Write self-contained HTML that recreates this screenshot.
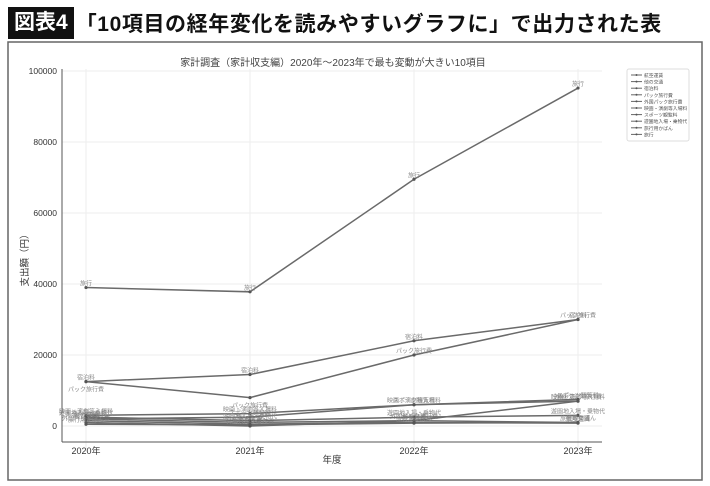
<!DOCTYPE html>
<html><head><meta charset="utf-8">
<style>
body{margin:0;width:710px;height:486px;background:#fff;font-family:"Liberation Sans","Noto Sans CJK JP",sans-serif;overflow:hidden}
.hdr{position:absolute;left:8px;top:7px;height:32px;display:flex;align-items:center}
.tag{background:#111;color:#fff;font-weight:bold;font-size:21px;padding:0 6px;height:32px;line-height:32px}
.ttl{font-weight:bold;font-size:21px;color:#111;margin-left:2px;letter-spacing:0.6px}
svg{position:absolute;left:0;top:0}
</style></head><body>
<div class="hdr"><span class="tag">図表4</span><span class="ttl">「10項目の経年変化を読みやすいグラフに」で出力された表</span></div>
<svg id="c" width="710" height="486"></svg>
<script>
const years=["2020年","2021年","2022年","2023年"];
const names=["航空運賃","他の交通","宿泊料","パック旅行費","外国パック旅行費","映画・演劇等入場料","スポーツ観覧料","遊園地入場・乗物代","旅行用かばん","旅行"];
const s0=[1500,500,1000,800];
const s1=[2000,1000,1500,1000];
const s2=[12500,14500,24000,30000];
const s3=[12500,8000,20000,30000];
const s4=[1000,0,1500,7000];
const s5=[3000,3500,6000,7000];
const s6=[2000,2500,6000,7500];
const s7=[2500,1500,2500,3000];
const s8=[500,300,800,1000];
const s9=[39000,37800,69500,95200];
const series=[s0,s1,s2,s3,s4,s5,s6,s7,s8,s9];
const yTicks=[0,20000,40000,60000,80000,100000];
const NS="http://www.w3.org/2000/svg";
const svg=document.getElementById('c');
const X0=86,DX=164,Y0=426,YS=71/20000;
const xs=i=>X0+i*DX, ys=v=>Y0-v*YS;
function mk(t,a,p){const e=document.createElementNS(NS,t);for(const k in a)e.setAttribute(k,a[k]);(p||svg).appendChild(e);return e;}
let frame=mk('rect',{x:8,y:42,width:694,height:438,fill:'none',stroke:'#666','stroke-width':1.5});


let t=mk('text',{x:333,y:66,'font-size':10,fill:'#444','text-anchor':'middle'});t.textContent="家計調査（家計収支編）2020年〜2023年で最も変動が大きい10項目";


yTicks.forEach(v=>{
 mk('line',{x1:62,x2:602,y1:ys(v),y2:ys(v),stroke:'#eee'});
 const l=mk('text',{x:57,y:ys(v)+3,'font-size':8.5,fill:'#333','text-anchor':'end'});l.textContent=v;
 
 
});
years.forEach((y,i)=>{
 mk('line',{x1:xs(i),x2:xs(i),y1:69,y2:452,stroke:'#eee'});
 const l=mk('text',{x:xs(i),y:454,'font-size':9,fill:'#333','text-anchor':'middle'});l.textContent=y;
 
 
});
mk('line',{x1:62,x2:62,y1:69,y2:442,stroke:'#555'});
mk('line',{x1:62,x2:602,y1:442,y2:442,stroke:'#555'});
let xl=mk('text',{x:332,y:463,'font-size':9.5,fill:'#333','text-anchor':'middle'});xl.textContent="年度";


let yl=mk('text',{x:28,y:258,'font-size':9.5,fill:'#333','text-anchor':'middle',transform:'rotate(-90 28 258)'});yl.textContent="支出額（円）";


series.forEach((s,k)=>{
 const g=mk('g',{});
 
 
 mk('polyline',{points:s.map((v,i)=>xs(i)+','+ys(v)).join(' '),fill:'none',stroke:'#6a6a6a','stroke-width':1.5},g);
 s.forEach((v,i)=>{
  mk('circle',{cx:xs(i),cy:ys(v),r:1.6,fill:'#555'},g);
  const l=mk('text',{x:xs(i),y:ys(v)+(k==3&&i<2?10:-2),'font-size':6,fill:'#888','text-anchor':'middle'},g);l.textContent=names[k];
 });
});
const lg=mk('g',{});


mk('rect',{x:627,y:69,width:62,height:72,fill:'#fff',stroke:'#ddd',rx:2},lg);
names.forEach((n,i)=>{
 const y=75+i*6.6;
 mk('line',{x1:631,x2:642,y1:y,y2:y,stroke:'#666','stroke-width':1},lg);
 mk('circle',{cx:636.5,cy:y,r:1,fill:'#555'},lg);
 const l=mk('text',{x:644,y:y+2,'font-size':4.8,fill:'#555'},lg);l.textContent=n;
 
 
});
</script>
</body></html>
